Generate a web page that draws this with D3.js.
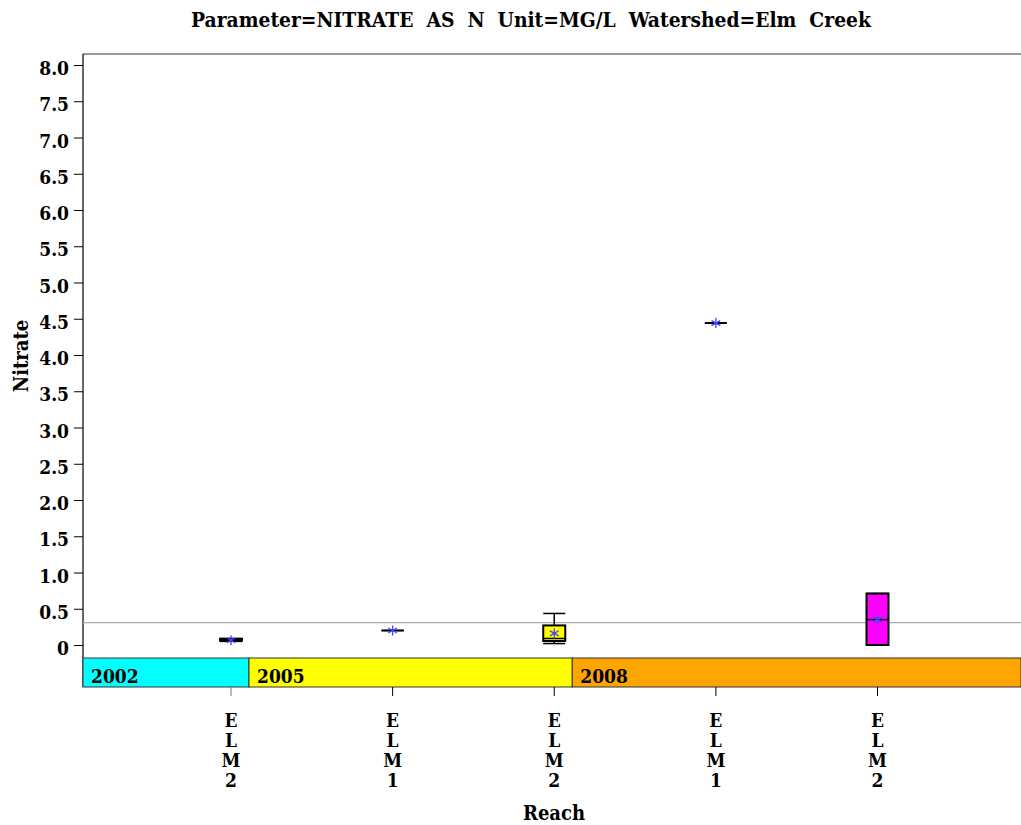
<!DOCTYPE html>
<html><head><meta charset="utf-8">
<script src="https://cdn.jsdelivr.net/npm/d3@7"></script>
<style>body{margin:0;background:#fff}svg{display:block}text{white-space:pre}</style>
</head><body>
<script>
const reaches = ["ELM2","ELM1","ELM2","ELM1","ELM2"];
const years   = ["2002","2005","2005","2008","2008"];
const wLow    = [0.05, 0.20, 0.02, 4.44, 0.00];
const q1      = [0.06, 0.20, 0.055, 4.44, 0.00];
const median  = [0.07, 0.20, 0.09, 4.44, 0.35];
const q3      = [0.085, 0.20, 0.27, 4.44, 0.71];
const wHigh   = [0.09, 0.20, 0.435, 4.44, 0.71];
const means   = [0.065, 0.20, 0.16, 4.44, 0.35];
const boxFill = ["#00FFFF","#FFFF00","#FFFF00","#FF00FF","#FF00FF"];
const yearGroups = ["2002","2005","2008"];
const yearColors = ["#00FFFF","#FFFF00","#FFA500"];
const yTicks = [0,0.5,1,1.5,2,2.5,3,3.5,4,4.5,5,5.5,6,6.5,7,7.5,8];
const refValue = 0.31;

const W=1021,H=825;
const FONT='"DejaVu Serif Condensed","DejaVu Serif",serif';
const svg=d3.select("body").append("svg").attr("width",W).attr("height",H);
const plotL=83, plotR=1021, plotT=54, bandT=658, bandB=687;
const y=d3.scaleLinear().domain([0,8]).range([645,65]);
const idx=d3.range(reaches.length);
const x=d3.scalePoint().domain(idx).range([231,877.5]);
const bw=22;

// title
svg.append("text").attr("x",531).attr("y",27).attr("text-anchor","middle")
  .attr("font-family",FONT).attr("font-weight","bold").attr("font-size",20.8)
  .text("Parameter=NITRATE  AS  N  Unit=MG/L  Watershed=Elm  Creek");

// frame
svg.append("line").attr("x1",plotL).attr("x2",plotR).attr("y1",plotT).attr("y2",plotT).attr("stroke","#333").attr("stroke-width",1.2);
svg.append("line").attr("x1",plotL).attr("x2",plotL).attr("y1",plotT).attr("y2",bandB).attr("stroke","#000").attr("stroke-width",1.2);

// y axis
const ya=svg.append("g").attr("transform",`translate(${plotL},0)`)
  .call(d3.axisLeft(y).tickValues(yTicks).tickSize(9).tickPadding(5)
    .tickFormat(d=>d===0?"0":d3.format(".1f")(d)));
ya.select(".domain").remove();
ya.selectAll("line").attr("stroke","#000");
ya.selectAll("text").attr("font-family",FONT).attr("font-weight","bold").attr("font-size",19).attr("fill","#000").attr("dy","0.5em");

svg.append("text").attr("transform","translate(28,356) rotate(-90)").attr("text-anchor","middle")
  .attr("font-family",FONT).attr("font-weight","bold").attr("font-size",20).text("Nitrate");

// reference line
svg.append("line").attr("x1",plotL).attr("x2",plotR).attr("y1",y(refValue)).attr("y2",y(refValue))
  .attr("stroke","#aaa").attr("stroke-width",1.3);

// year bands
const groupEnds=yearGroups.map(g=>d3.max(idx.filter(i=>years[i]===g)));
const bounds=[plotL].concat(groupEnds.slice(0,-1).map(i=>x(i)+18)).concat([plotR]);
yearGroups.forEach((g,k)=>{
  svg.append("rect").attr("x",bounds[k]).attr("y",bandT).attr("width",bounds[k+1]-bounds[k]).attr("height",bandB-bandT)
    .attr("fill",yearColors[k]).attr("stroke","#333").attr("stroke-width",1);
  svg.append("text").attr("x",bounds[k]+8).attr("y",bandT+25).attr("font-family",FONT).attr("font-weight","bold")
    .attr("font-size",19).text(g);
});

// x axis ticks & labels
idx.forEach(i=>{
  svg.append("line").attr("x1",x(i)).attr("x2",x(i)).attr("y1",bandB).attr("y2",bandB+9).attr("stroke",i===0?"#777":"#000");
  reaches[i].split("").forEach((c,j)=>{
    svg.append("text").attr("x",x(i)).attr("y",727+j*20).attr("text-anchor","middle")
      .attr("font-family",FONT).attr("font-weight","bold").attr("font-size",19).text(c);
  });
});
svg.append("text").attr("x",554).attr("y",820).attr("text-anchor","middle")
  .attr("font-family",FONT).attr("font-weight","bold").attr("font-size",20).text("Reach");

// boxes
const g=svg.append("g");
idx.forEach(i=>{
  const cx=x(i);
  if(wHigh[i]>q3[i]){
    g.append("line").attr("x1",cx).attr("x2",cx).attr("y1",y(q3[i])).attr("y2",y(wHigh[i])).attr("stroke","#000").attr("stroke-width",1.5);
  }
  if(wLow[i]<q1[i]){
    g.append("line").attr("x1",cx).attr("x2",cx).attr("y1",y(q1[i])).attr("y2",y(wLow[i])).attr("stroke","#000").attr("stroke-width",1.5);
  }
  [wLow[i],wHigh[i]].forEach(v=>{
    g.append("line").attr("x1",cx-bw/2).attr("x2",cx+bw/2).attr("y1",y(v)).attr("y2",y(v)).attr("stroke","#000").attr("stroke-width",1.5);
  });
  if(q3[i]>q1[i]){
    g.append("rect").attr("x",cx-bw/2).attr("y",y(q3[i])).attr("width",bw).attr("height",y(q1[i])-y(q3[i]))
      .attr("fill",boxFill[i]).attr("stroke","#000").attr("stroke-width",2);
  }
  g.append("line").attr("x1",cx-bw/2).attr("x2",cx+bw/2).attr("y1",y(median[i])).attr("y2",y(median[i])).attr("stroke","#000").attr("stroke-width",1.5);
  g.append("path").attr("transform",`translate(${cx},${y(means[i])})`)
    .attr("d",d3.symbol().type(d3.symbolAsterisk).size(70)())
    .attr("stroke","#4444ff").attr("stroke-width",1.3).attr("fill","none");
});
</script>
</body></html>
